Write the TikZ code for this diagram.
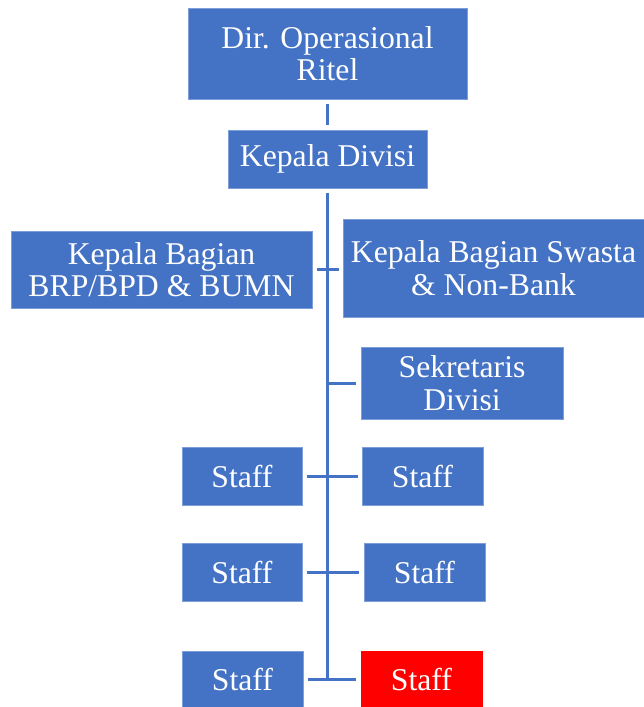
\documentclass[tikz,border=0pt]{standalone}
\usepackage{fontspec}
\setmainfont{Liberation Serif}
\usepackage{xcolor}

\definecolor{orgblue}{RGB}{68,114,196}
\definecolor{orgred}{RGB}{255,0,0}
\definecolor{orgedge}{RGB}{125,158,216}

\tikzset{
	unit/.style={fill=orgblue, draw=orgedge, line width=0.8pt, text=white, align=center, inner sep=0pt, font=\fontsize{31.7}{32.5}\selectfont},
	link/.style={draw=orgblue, line width=3pt, shorten <=5pt, shorten >=5pt}
}

\begin{document}
\begin{tikzpicture}[x=1pt, y=-1pt]
	\useasboundingbox (0,0) rectangle (644,707);
	\node [unit, minimum width=279pt, minimum height=91pt] (dir) at (327.5,53.5) {Dir. Operasional\\Ritel};
	\node [unit, minimum width=199pt, minimum height=58pt] (kadiv) at (327.5,159) {Kepala Divisi};
	\node [unit, minimum width=301pt, minimum height=77pt] (brp) at (161.5,269.5) {Kepala Bagian\\BRP/BPD \& BUMN};
	\node [unit, minimum width=301pt, minimum height=98pt] (swasta) at (493.5,268) {Kepala Bagian Swasta\\\& Non-Bank};
	\node [unit, minimum width=202pt, minimum height=72pt] (sek) at (462,383) {Sekretaris\\Divisi};
	\node [unit, minimum width=120pt, minimum height=58pt] (s1l) at (242,476) {Staff};
	\node [unit, minimum width=121pt, minimum height=58pt] (s1r) at (422.5,476) {Staff};
	\node [unit, minimum width=120pt, minimum height=58pt] (s2l) at (242,572) {Staff};
	\node [unit, minimum width=121pt, minimum height=58pt] (s2r) at (424.5,572) {Staff};
	\node [unit, minimum width=121pt, minimum height=56pt] (s3l) at (242.5,679) {Staff};
	\node [unit, fill=orgred, draw=orgred, minimum width=121pt, minimum height=56pt] (s3r) at (421.5,679) {Staff};
	\coordinate (trunkend) at (327.5,679);
	\draw [link] (dir.south) -- (kadiv.north);
	\draw [link, shorten >=0pt] (kadiv.south) -- (trunkend);
	\draw [link, shorten >=4pt] (brp.east) -- (brp.east -| swasta.west);
	\draw [link, shorten <=0pt] (sek.west -| trunkend) -- (sek.west);
	\draw [link, shorten >=4pt] (s1l.east) -- (s1r.west);
	\draw [link] (s2l.east) -- (s2r.west);
	\draw [link] (s3l.east) -- (s3r.west);
\end{tikzpicture}
\end{document}
